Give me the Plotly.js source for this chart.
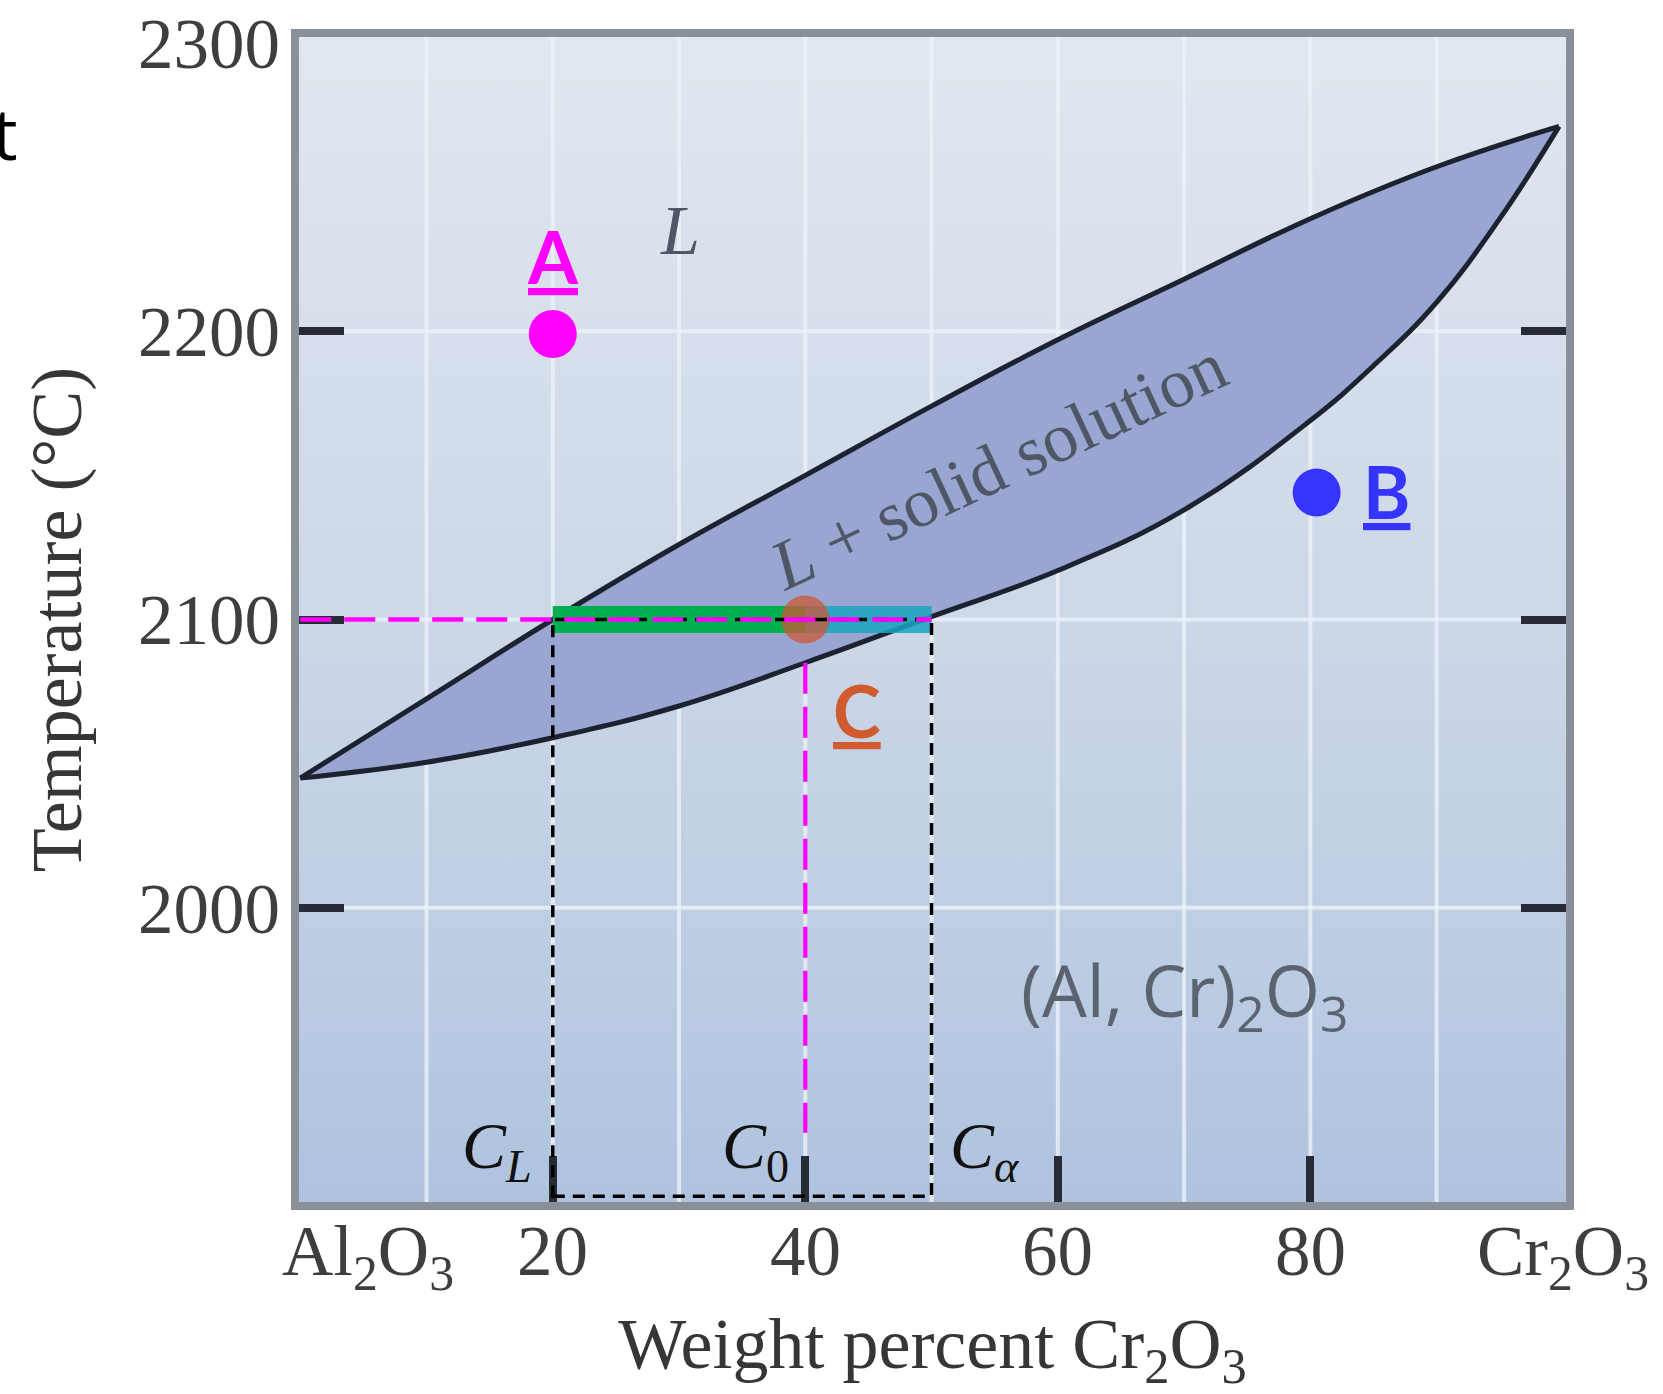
<!DOCTYPE html>
<html><head><meta charset="utf-8">
<script src="https://cdn.plot.ly/plotly-3.0.1.min.js"></script>
<style>html,body{margin:0;padding:0;background:#fff;}</style>
</head><body>
<div id="chart" style="width:1663px;height:1394px;"></div>
<script>
// ---- data (wt% Cr2O3, temperature in °C) ----
const xRange = [-0.1, 100.25];
const tRange = [1898, 2302];

const liquidusX = [0, 10, 20, 30, 40, 50, 60, 70, 80, 90, 99.7];
const liquidusT = [2045, 2072.5, 2100, 2126, 2150, 2174, 2197, 2218, 2239, 2257, 2271];
const solidusX  = [0, 10, 20, 30, 40, 50, 60, 70, 80, 85, 90, 95, 99.7];
const solidusT  = [2045, 2050.5, 2059, 2070, 2085, 2101, 2117, 2138, 2169, 2188, 2210, 2239, 2271];

const gridX = [10, 20, 30, 40, 50, 60, 70, 80, 90];
const gridT = [2000, 2100, 2200];

const xTickMarks = [20, 40, 60, 80];
const xTickLabelVals = [0, 20, 40, 60, 80, 100];
const xTickLabelText = ['Al<sub>2</sub>O<sub>3</sub>', '20', '40', '60', '80', 'Cr<sub>2</sub>O<sub>3</sub>'];
const tTickMarks = [2000, 2100, 2200];
const tTickLabelVals = [2000, 2100, 2200, 2300];
const tTickLabelText = ['2000', '2100', '2200', '2300'];

// tie line construction at C0
const tieT = 2100;
const compCL = 20, compC0 = 40, compCalpha = 50;
const boxBottomT = 1900;
const c0LineT = [2085, 1922];

// state points
const pointNames = ['A', 'B', 'C'];
const pointX = [20, 80.5, 40];
const pointT = [2199, 2144, 2100];
const pointLabelX = [20, 86.05, 44.1];
const pointLabelT = [2226, 2144.4, 2068.6];

// region labels
const regionText = ['<i>L</i>', '<i>L</i> + solid solution', '(Al, Cr)<sub>2</sub>O<sub>3</sub>'];
const regionX = [30.1, 55.3, 70.0];
const regionT = [2235, 2153.5, 1970];

// composition labels
const compText = ['<i>C</i><sub><i>L</i></sub>', '<i>C</i><sub>0</sub>', '<i>C</i><sub><i>α</i></sub>'];
const compLabelX = [18.5, 38.9, 51.3];
const compLabelT = 1931;

// ---- styles ----
const SERIF = 'Liberation Serif, Times New Roman, serif';
const SANS = 'Lato, Open Sans, sans-serif';
const borderColor = '#8a9098';
const tickColor = '#262b36';
const gridColor = 'rgba(238,243,250,0.75)';
const lensColor = '#98a6d1';
const curveColor = '#1c2230';

function gridVertical() {
  const x = [], y = [];
  gridX.forEach(v => { x.push(v, v, null); y.push(tRange[0], tRange[1], null); });
  return {x, y};
}
function gridHorizontal() {
  const x = [], y = [];
  gridT.forEach(v => { x.push(xRange[0], xRange[1], null); y.push(v, v, null); });
  return {x, y};
}
const gv = gridVertical(), gh = gridHorizontal();

const base = {type: 'scatter', hoverinfo: 'skip', showlegend: false};

const traces = [
  Object.assign({}, base, {
    x: [xRange[0], xRange[1], xRange[1], xRange[0], xRange[0]],
    y: [tRange[0], tRange[0], tRange[1], tRange[1], tRange[0]],
    mode: 'lines', line: {width: 0}, fill: 'toself',
    fillgradient: {type: 'vertical', start: tRange[0], stop: tRange[1],
      colorscale: [[0, '#afc3df'], [0.25, '#bfcee3'], [0.5, '#ccd7e7'], [0.75, '#d6dfeb'], [1, '#e0e7ef']]}
  }),
  Object.assign({}, base, {x: gv.x, y: gv.y, mode: 'lines', line: {color: gridColor, width: 4}}),
  Object.assign({}, base, {x: gh.x, y: gh.y, mode: 'lines', line: {color: gridColor, width: 4}}),
  Object.assign({}, base, {x: solidusX, y: solidusT, mode: 'lines',
    line: {color: curveColor, width: 5, shape: 'spline', smoothing: 1.2}}),
  Object.assign({}, base, {x: liquidusX, y: liquidusT, mode: 'lines', fill: 'tonexty', fillcolor: lensColor,
    line: {color: curveColor, width: 5, shape: 'spline', smoothing: 1.2}}),
  // tie line: liquid part (green) and solid part (teal)
  Object.assign({}, base, {x: [compCL, compC0], y: [tieT, tieT], mode: 'lines', line: {color: '#00b050', width: 27}}),
  Object.assign({}, base, {x: [compC0, compCalpha], y: [tieT, tieT], mode: 'lines', line: {color: 'rgba(25,165,190,0.85)', width: 27}}),
  // state points
  Object.assign({}, base, {x: pointX.slice(0, 2), y: pointT.slice(0, 2), yaxis: 'y2', mode: 'markers',
    marker: {size: 48, color: ['#ff00ff', '#3535ff'], line: {width: 0}}}),
  Object.assign({}, base, {x: pointX.slice(2), y: pointT.slice(2), yaxis: 'y2', mode: 'markers',
    marker: {size: 48, color: 'rgba(205,88,52,0.75)', line: {width: 0}}})
];

// dashed construction lines (drawn above the axis ticks, as in the reference)
const shapes = [
  {type: 'rect', xref: 'x', yref: 'y', layer: 'above', x0: compCL, x1: compCalpha, y0: boxBottomT, y1: tieT,
   fillcolor: 'rgba(0,0,0,0)', line: {color: '#000000', width: 3.5, dash: '12px,8px'}},
  {type: 'line', xref: 'x', yref: 'y', layer: 'above', x0: 0, x1: compCalpha, y0: tieT, y1: tieT,
   line: {color: '#ff00ff', width: 4.3, dash: '31px,13px'}},
  {type: 'line', xref: 'x', yref: 'y', layer: 'above', x0: compC0, x1: compC0, y0: c0LineT[0], y1: c0LineT[1],
   line: {color: '#ff00ff', width: 4.3, dash: '31px,13px'}}
];

const pointColors = ['#ff00ff', '#3535ff', '#cf5b2e'];
const annotations = [];
pointNames.forEach((n, i) => annotations.push({
  x: pointLabelX[i], y: pointLabelT[i], xref: 'x', yref: 'y', showarrow: false,
  text: '<b><u>' + n + '</u></b>', xanchor: 'center', yanchor: 'middle',
  font: {family: SANS, size: 72, color: pointColors[i]}
}));
regionText.forEach((t, i) => annotations.push({
  x: regionX[i], y: regionT[i], xref: 'x', yref: 'y', showarrow: false, text: t,
  xanchor: 'center', yanchor: 'middle', textangle: i === 1 ? -25 : 0,
  font: {family: i === 2 ? 'Open Sans, sans-serif' : SERIF, size: i === 2 ? 71 : 70,
         color: i === 2 ? '#5b6370' : '#4f5666'}
}));
compText.forEach((t, i) => annotations.push({
  x: compLabelX[i], y: compLabelT, xref: 'x', yref: 'y', showarrow: false, text: t,
  xanchor: i === 2 ? 'left' : 'right', yanchor: 'top',
  font: {family: SERIF, size: 66, color: '#111111'}
}));
xTickLabelVals.forEach((v, i) => annotations.push({
  x: v, y: 0, xref: 'x', yref: 'paper', showarrow: false, text: xTickLabelText[i],
  xanchor: i === 0 ? 'left' : 'center', xshift: i === 0 ? -20 : 0,
  yanchor: 'top', yshift: -8,
  font: {family: SERIF, size: 71, color: '#3e3e3e'}
}));
// fragment of a word cut off at the left edge of the picture
annotations.push({x: -0.2205, y: 0.9185, xref: 'paper', yref: 'paper', showarrow: false,
  text: 't', xanchor: 'right', yanchor: 'middle', font: {family: 'Open Sans, sans-serif', size: 72, color: '#000000'}});

const layout = {
  width: 1663, height: 1394,
  margin: {l: 299, r: 97, t: 37, b: 192, pad: 0},
  paper_bgcolor: '#ffffff', plot_bgcolor: '#ccd7e7',
  showlegend: false, hovermode: false,
  xaxis: {
    range: xRange, showgrid: false, zeroline: false,
    showline: true, linecolor: borderColor, linewidth: 8, mirror: true,
    ticks: 'inside', tickvals: xTickMarks, ticklen: 46, tickwidth: 8, tickcolor: tickColor,
    showticklabels: false,
    title: {text: 'Weight percent Cr<sub>2</sub>O<sub>3</sub>', standoff: 123,
            font: {family: SERIF, size: 72, color: '#363636'}}
  },
  yaxis: {
    range: tRange, showgrid: false, zeroline: false,
    showline: true, linecolor: borderColor, linewidth: 8, mirror: 'ticks',
    ticks: 'inside', tickvals: tTickMarks, ticklen: 45, tickwidth: 8, tickcolor: tickColor,
    showticklabels: false
  },
  yaxis2: {
    overlaying: 'y', side: 'left', range: tRange, showgrid: false, zeroline: false,
    showline: false, ticks: '', tickvals: tTickLabelVals, ticktext: tTickLabelText,
    ticklabelstandoff: 18,
    tickfont: {family: SERIF, size: 71, color: '#3e3e3e'},
    title: {text: 'Temperature (°C)', standoff: 32, font: {family: SERIF, size: 72, color: '#363636'}}
  },
  shapes: shapes,
  annotations: annotations
};

Plotly.newPlot('chart', traces, layout, {staticPlot: true, displayModeBar: false});
</script>
</body></html>
